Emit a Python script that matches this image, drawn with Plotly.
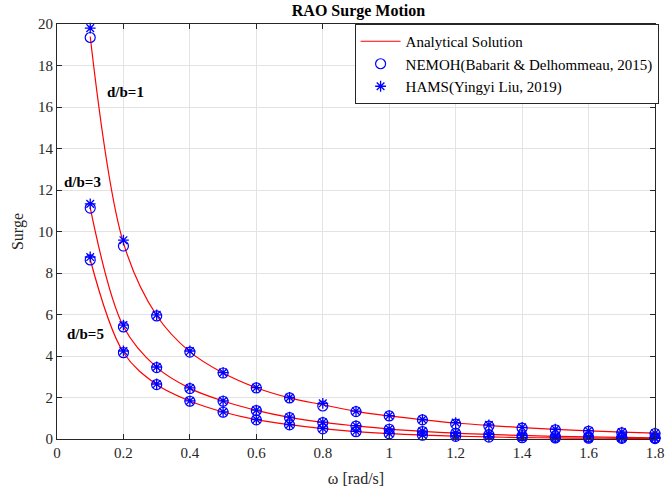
import plotly.graph_objects as go

omega = [0.1, 0.2, 0.3, 0.4, 0.5, 0.6, 0.7, 0.8, 0.9, 1.0, 1.1, 1.2, 1.3, 1.4, 1.5, 1.6, 1.7, 1.8]

# d/b = 1
analytic_db1 = [19.4, 9.45, 5.95, 4.2, 3.18, 2.47, 1.98, 1.65, 1.33, 1.11, 0.93, 0.77, 0.65, 0.55, 0.46, 0.39, 0.33, 0.28]
nemoh_db1 = [19.35, 9.3, 5.93, 4.19, 3.18, 2.46, 1.98, 1.59, 1.32, 1.11, 0.92, 0.72, 0.62, 0.52, 0.44, 0.37, 0.30, 0.26]
hams_db1 = [19.8, 9.58, 5.98, 4.24, 3.2, 2.48, 2.0, 1.72, 1.34, 1.13, 0.94, 0.79, 0.68, 0.56, 0.47, 0.40, 0.33, 0.28]

# d/b = 3
analytic_db3 = [11.15, 5.42, 3.45, 2.44, 1.83, 1.38, 1.04, 0.80, 0.63, 0.48, 0.37, 0.28, 0.22, 0.17, 0.13, 0.10, 0.08, 0.06]
nemoh_db3 = [11.13, 5.40, 3.44, 2.43, 1.82, 1.37, 1.03, 0.79, 0.62, 0.47, 0.36, 0.27, 0.21, 0.16, 0.12, 0.10, 0.08, 0.06]
hams_db3 = [11.33, 5.49, 3.47, 2.46, 1.84, 1.39, 1.05, 0.81, 0.64, 0.49, 0.38, 0.29, 0.23, 0.18, 0.14, 0.11, 0.09, 0.07]

# d/b = 5
analytic_db5 = [8.65, 4.17, 2.63, 1.83, 1.30, 0.93, 0.69, 0.50, 0.36, 0.26, 0.19, 0.14, 0.10, 0.07, 0.05, 0.04, 0.03, 0.02]
nemoh_db5 = [8.63, 4.16, 2.62, 1.82, 1.29, 0.92, 0.68, 0.49, 0.35, 0.25, 0.18, 0.13, 0.09, 0.06, 0.05, 0.04, 0.03, 0.02]
hams_db5 = [8.77, 4.24, 2.65, 1.84, 1.31, 0.94, 0.70, 0.51, 0.37, 0.27, 0.20, 0.15, 0.11, 0.08, 0.06, 0.05, 0.04, 0.03]

x_ticks = [0, 0.2, 0.4, 0.6, 0.8, 1.0, 1.2, 1.4, 1.6, 1.8]
x_tick_labels = ["0", "0.2", "0.4", "0.6", "0.8", "1", "1.2", "1.4", "1.6", "1.8"]
y_ticks = [0, 2, 4, 6, 8, 10, 12, 14, 16, 18, 20]

labels = [("d/b=1", 0.145, 16.7), ("d/b=3", 0.015, 12.4), ("d/b=5", 0.025, 5.05)]

FONT = "Liberation Serif, Times New Roman, serif"
BLUE = "#0000ff"
RED = "#ff0000"

fig = go.Figure()

sets = [(analytic_db1, nemoh_db1, hams_db1), (analytic_db3, nemoh_db3, hams_db3), (analytic_db5, nemoh_db5, hams_db5)]

for i, (a, n, h) in enumerate(sets):
    fig.add_trace(go.Scatter(
        x=omega, y=a, mode="lines", line=dict(color=RED, width=1.2, shape="spline", smoothing=1.0),
        name="Analytical Solution", legendgroup="a", showlegend=(i == 0), cliponaxis=False))
for i, (a, n, h) in enumerate(sets):
    fig.add_trace(go.Scatter(
        x=omega, y=n, mode="markers",
        marker=dict(symbol="circle-open", size=10, color=BLUE, line=dict(width=1.2, color=BLUE)),
        name="NEMOH(Babarit & Delhommeau, 2015)", legendgroup="n", showlegend=(i == 0), cliponaxis=False))
for i, (a, n, h) in enumerate(sets):
    fig.add_trace(go.Scatter(
        x=omega, y=h, mode="markers",
        marker=dict(symbol="asterisk-open", size=9, color=BLUE, line=dict(width=1.3, color=BLUE)),
        name="HAMS(Yingyi Liu, 2019)", legendgroup="h", showlegend=(i == 0), cliponaxis=False))

for text, x, y in labels:
    fig.add_annotation(x=x, y=y, text="<b>" + text + "</b>", showarrow=False,
                       xanchor="left", yanchor="middle",
                       font=dict(family=FONT, size=15, color="black"))

axis_common = dict(showgrid=True, gridcolor="#e3e3e3", gridwidth=1, automargin=False,
                   showline=True, linecolor="#262626", linewidth=1, mirror="ticks",
                   ticks="inside", ticklen=5, tickcolor="#262626", zeroline=False,
                   tickfont=dict(family=FONT, size=15, color="#262626"))

fig.update_layout(
    width=670, height=495,
    margin=dict(l=57, r=11, t=24, b=56),
    paper_bgcolor="white", plot_bgcolor="white",
    title=dict(text="<b>RAO Surge Motion</b>", x=0.535, xanchor="center", y=0.98, yanchor="middle",
               font=dict(family=FONT, size=16, color="black")),
    xaxis=dict(range=[0, 1.8], tickvals=x_ticks, ticktext=x_tick_labels,
               title=dict(text="ω [rad/s]", font=dict(family=FONT, size=16, color="#262626"), standoff=12),
               **axis_common),
    yaxis=dict(range=[0, 20], tickvals=y_ticks,
               title=dict(text="Surge", font=dict(family=FONT, size=16, color="#262626"), standoff=10),
               **axis_common),
    legend=dict(x=1.006, y=1, xanchor="right", yanchor="top", bgcolor="white",
                bordercolor="#262626", borderwidth=1,
                font=dict(family=FONT, size=15, color="black"),
                tracegroupgap=0, itemwidth=40),
    showlegend=True,
)

fig.write_html("out.html")
